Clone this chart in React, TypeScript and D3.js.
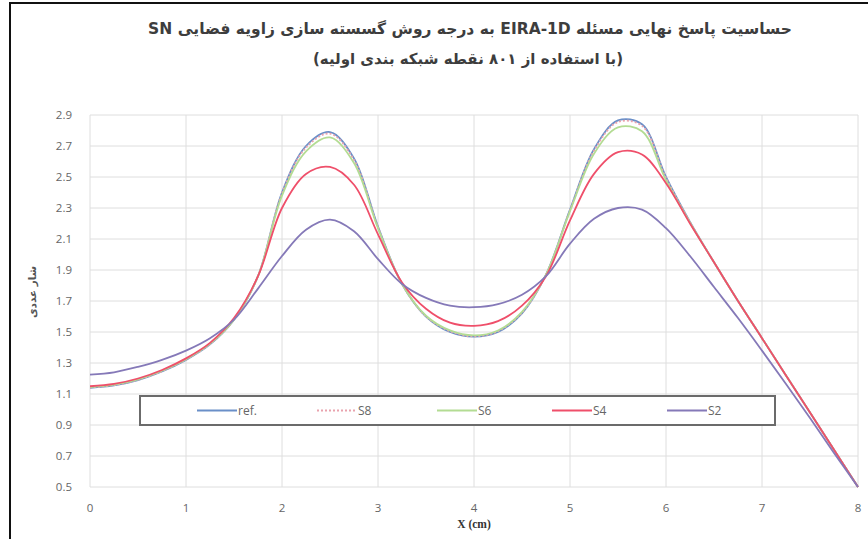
import React from "react";
import * as d3 from "d3";

const xValues = [0, 0.25, 0.5, 0.75, 1, 1.25, 1.5, 1.75, 2, 2.25, 2.5, 2.75, 3, 3.25, 3.5, 3.75, 4, 4.25, 4.5, 4.75, 5, 5.25, 5.5, 5.75, 6, 6.25, 6.5, 6.75, 7, 7.25, 7.5, 7.75, 8];

const refValues = [1.14, 1.155, 1.19, 1.245, 1.32, 1.42, 1.58, 1.86, 2.4, 2.7, 2.79, 2.62, 2.18, 1.81, 1.6, 1.5, 1.47, 1.5, 1.62, 1.87, 2.29, 2.68, 2.865, 2.84, 2.5, 2.21, 1.95, 1.7, 1.46, 1.22, 0.98, 0.74, 0.5];
const s8Values = [1.142, 1.157, 1.192, 1.247, 1.322, 1.422, 1.58, 1.86, 2.395, 2.69, 2.78, 2.61, 2.175, 1.81, 1.6, 1.505, 1.472, 1.505, 1.625, 1.87, 2.285, 2.67, 2.855, 2.83, 2.495, 2.21, 1.95, 1.7, 1.46, 1.22, 0.98, 0.74, 0.5];
const s6Values = [1.145, 1.16, 1.195, 1.25, 1.325, 1.425, 1.58, 1.86, 2.38, 2.665, 2.755, 2.59, 2.17, 1.81, 1.605, 1.51, 1.478, 1.51, 1.63, 1.87, 2.28, 2.65, 2.82, 2.795, 2.48, 2.205, 1.95, 1.7, 1.46, 1.22, 0.98, 0.74, 0.5];
const s4Values = [1.15, 1.165, 1.2, 1.255, 1.33, 1.43, 1.59, 1.86, 2.3, 2.52, 2.565, 2.45, 2.13, 1.82, 1.65, 1.56, 1.54, 1.57, 1.67, 1.86, 2.22, 2.52, 2.66, 2.645, 2.46, 2.2, 1.95, 1.7, 1.46, 1.22, 0.98, 0.74, 0.5];
const s2Values = [1.225, 1.24, 1.275, 1.32, 1.38, 1.46, 1.58, 1.78, 1.99, 2.16, 2.225, 2.15, 1.97, 1.81, 1.72, 1.67, 1.66, 1.68, 1.74, 1.86, 2.07, 2.23, 2.3, 2.29, 2.17, 1.99, 1.79, 1.59, 1.38, 1.165, 0.945, 0.72, 0.5];

const seriesNames = ["ref.", "S8", "S6", "S4", "S2"];
const seriesColors = ["#6a8fc8", "#e9a3ae", "#b3dc93", "#ef4f6a", "#8579b8"];
const seriesDash = [null, "2,2", null, null, null];

const xTicks = [0, 1, 2, 3, 4, 5, 6, 7, 8];
const yTicks = [0.5, 0.7, 0.9, 1.1, 1.3, 1.5, 1.7, 1.9, 2.1, 2.3, 2.5, 2.7, 2.9];

const titleText = "حساسیت پاسخ نهایی مسئله EIRA-1D به درجه روش گسسته سازی زاویه فضایی SN";
const subtitleText = "(با استفاده از ۸۰۱ نقطه شبکه بندی اولیه)";
const yLabel = "شار عددی";
const xLabel = "X (cm)";

export default function App() {
  const W = 868, H = 539;
  const x = d3.scaleLinear().domain([0, 8]).range([90, 858]);
  const y = d3.scaleLinear().domain([0.5, 2.9]).range([487, 115]);
  const all = [refValues, s8Values, s6Values, s4Values, s2Values];
  const line = d3.line<number>()
    .x((_, i) => x(xValues[i]))
    .y((v) => y(v))
    .curve(d3.curveCatmullRom.alpha(0.5));

  const legX = [197, 317, 437, 552, 667];

  return (
    <svg width={W} height={H} style={{ position: "absolute", left: 0, top: 0, background: "#fff" }}>
      <rect x={10} y={3} width={900} height={600} fill="#fff" stroke="#111" strokeWidth={2} />
      {yTicks.map((t) => (
        <line key={"gy" + t} x1={x(0)} x2={x(8)} y1={y(t)} y2={y(t)} stroke="#dedede" strokeWidth={1} />
      ))}
      {xTicks.map((t) => (
        <line key={"gx" + t} x1={x(t)} x2={x(t)} y1={y(2.9)} y2={y(0.5)} stroke="#dedede" strokeWidth={1} />
      ))}
      {yTicks.map((t) => (
        <text key={"ty" + t} x={72} y={y(t)} dy="0.35em" textAnchor="end" fontFamily="Open Sans" fontSize={11.5} fill="#666">
          {t.toFixed(1)}
        </text>
      ))}
      {xTicks.map((t) => (
        <text key={"tx" + t} x={x(t)} y={508} dy="0.35em" textAnchor="middle" fontFamily="Open Sans" fontSize={11.5} fill="#666">
          {t}
        </text>
      ))}
      {all.map((vals, i) => (
        <path key={"s" + i} d={line(vals) || ""} fill="none" stroke={seriesColors[i]} strokeWidth={1.8}
          strokeDasharray={seriesDash[i] || undefined} />
      ))}
      <rect x={140} y={396} width={635} height={29} fill="#fff" stroke="#6b6b6b" strokeWidth={2} />
      {seriesNames.map((n, i) => (
        <g key={"l" + i}>
          <line x1={legX[i]} x2={legX[i] + 40} y1={410.5} y2={410.5} stroke={seriesColors[i]} strokeWidth={2}
            strokeDasharray={seriesDash[i] || undefined} />
          <text x={legX[i] + 41} y={410.5} dy="0.35em" fontFamily="Open Sans" fontSize={12} fill="#666">{n}</text>
        </g>
      ))}
      <text x={470} y={29} dy="0.35em" textAnchor="middle" direction="rtl" fontFamily="DejaVu Sans" fontWeight="bold" fontSize={15.5} fill="#3d3d3d">
        {titleText}
      </text>
      <text x={468} y={59} dy="0.35em" textAnchor="middle" direction="rtl" fontFamily="DejaVu Sans" fontWeight="bold" fontSize={15} fill="#3d3d3d">
        {subtitleText}
      </text>
      <text transform="translate(32,292) rotate(-90)" textAnchor="middle" dy="0.35em" direction="rtl" fontFamily="DejaVu Sans" fontWeight="bold" fontSize={10.5} fill="#555">
        {yLabel}
      </text>
      <text x={474} y={524} dy="0.35em" textAnchor="middle" fontFamily="Liberation Serif" fontWeight="bold" fontSize={11.5} fill="#333">
        {xLabel}
      </text>
    </svg>
  );
}
